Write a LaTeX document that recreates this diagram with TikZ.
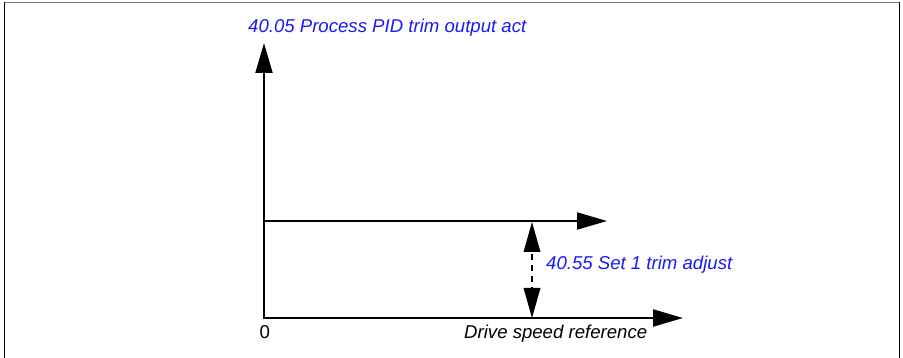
\documentclass[tikz,border=0pt]{standalone}
\usepackage{fontspec}
\setmainfont{Liberation Sans}
\usetikzlibrary{arrows.meta}
\definecolor{lblblue}{RGB}{25,25,250}
\tikzset{
  axis/.style={line width=2pt, -{Triangle[length=30pt,width=17pt]}},
  tipboth/.style={line width=2pt, {Triangle[length=30pt,width=17pt]}-{Triangle[length=30pt,width=17pt]}},
  lbl/.style={anchor=base west, inner sep=0pt, font=\fontsize{18.6}{22}\selectfont\itshape},
  bluelbl/.style={lbl, text=lblblue},
  frameline/.style={line width=1.6pt}
}
\begin{document}
\begin{tikzpicture}[x=1pt,y=-1pt]
\useasboundingbox (0,0) rectangle (903,358);
% frame
\coordinate (fTL) at (4.5,2.5);
\coordinate (fTR) at (899.5,2.5);
\coordinate (fBL) at (4.5,358);
\coordinate (fBR) at (899.5,358);
\draw[frameline, gray] (fTL) -- (fTR);
\draw[frameline] (fTL) -- (fBL);
\draw[frameline] (fTR) -- (fBR);
% axes
\coordinate (O) at (264,318);
\coordinate (ytip) at (264,43);
\coordinate (xtip) at (683,318);
\coordinate (mstart) at (264,221);
\coordinate (mtip) at (607,221);
\coordinate (dtop) at (532,222);
\coordinate (dbot) at (532,318);
\draw[axis] (O) -- (ytip);
\draw[axis] ([xshift=-1pt]O) -- (xtip);
\draw[axis] (mstart) -- (mtip);
\draw[line width=2pt, dash pattern=on 6pt off 5pt] (532,254) -- (532,289);
\fill (dtop) -- ++(-8.5,30) -- ++(17,0) -- cycle;
\fill (dbot) -- ++(-8.5,-30) -- ++(17,0) -- cycle;
% labels
\node[bluelbl] (ylab) at (248,33) {40.05 Process PID trim output act};
\node[bluelbl] (dlab) at (546,270) {40.55 Set 1 trim adjust};
\node[lbl, font=\fontsize{18.6}{22}\selectfont] (zero) at (259.5,338) {0};
\node[lbl] (xlab) at (464,338) {Drive speed reference};
\end{tikzpicture}
\end{document}
